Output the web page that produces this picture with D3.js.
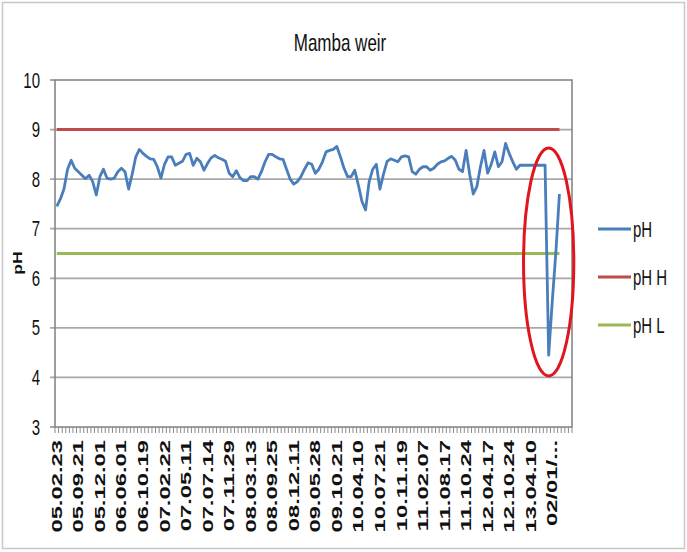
<!DOCTYPE html>
<html>
<head>
<meta charset="utf-8">
<script src="https://cdn.jsdelivr.net/npm/d3@7"></script>
<style>
  body { margin: 0; background: #fff; }
  text { font-family: "Liberation Sans", Arial, sans-serif; fill: #111; }
</style>
</head>
<body>
<svg id="chart" width="687" height="552"></svg>
<script>
// pH readings, one per category
var pH = [
  7.45, 7.6, 7.8, 8.2, 8.38, 8.22, 8.15, 8.08, 8.01, 8.08,
  7.95, 7.68, 8.05, 8.2, 8.02, 8.0, 8.02, 8.15, 8.22, 8.15,
  7.8, 8.1, 8.45, 8.6, 8.52, 8.46, 8.41, 8.4, 8.25, 8.02,
  8.3, 8.45, 8.45, 8.28, 8.32, 8.36, 8.5, 8.52, 8.28, 8.42,
  8.35, 8.18, 8.32, 8.43, 8.48, 8.43, 8.4, 8.36, 8.12, 8.05,
  8.17, 8.03, 7.97, 7.97, 8.05, 8.05, 8.0, 8.15, 8.35, 8.5,
  8.5, 8.45, 8.41, 8.4, 8.2, 8.0, 7.9, 7.95, 8.05, 8.2,
  8.33, 8.3, 8.12, 8.2, 8.35, 8.55, 8.58, 8.6, 8.66, 8.45,
  8.22, 8.05, 8.05, 8.18, 7.88, 7.55, 7.38, 7.95, 8.2, 8.3,
  7.8, 8.1, 8.36, 8.41, 8.38, 8.35, 8.45, 8.47, 8.45, 8.15,
  8.1, 8.2, 8.25, 8.25, 8.18, 8.22, 8.3, 8.35, 8.37, 8.42,
  8.46, 8.38, 8.2, 8.15, 8.58, 8.1, 7.7, 7.85, 8.25, 8.58,
  8.12, 8.3, 8.55, 8.25, 8.35, 8.72, 8.52, 8.35, 8.2, 8.28,
  8.28, 8.28, 8.28, 8.28, 8.28, 8.28, 8.28, 4.45, 5.53, 6.52,
  7.7
];
var pHH = 9;     // upper limit
var pHL = 6.5;   // lower limit
var nCategories = 144;
var labelEvery = 6;
var tickLabels = [
  "05.02.23", "05.09.21", "05.12.01", "06.06.01", "06.10.19", "07.02.22",
  "07.05.11", "07.07.14", "07.11.29", "08.03.13", "08.09.25", "08.12.11",
  "09.05.28", "09.10.21", "10.04.10", "10.07.21", "10.11.19", "11.02.07",
  "11.08.17", "11.10.24", "12.04.17", "12.10.24", "13.04.10", "02/01/..."
];
var yTicks = [3, 4, 5, 6, 7, 8, 9, 10];
var legendItems = [
  {name: "pH", color: "#4A7EBB"},
  {name: "pH H", color: "#BE4B48"},
  {name: "pH L", color: "#98B954"}
];
// red ring round the drop: centre category / value, half sizes
var ring = {cat: 137, value: 6.33, halfCats: 7, halfValue: 2.3};

var svg = d3.select("#chart");
var plotL = 55, plotR = 572, plotT = 80, plotB = 427;

var x = d3.scaleBand().domain(d3.range(nCategories)).range([plotL, plotR]);
var y = d3.scaleLinear().domain([3, 10]).range([plotB, plotT]);
var bw = x.bandwidth();
function cx(i) { return x(i) + bw / 2; }

// outer frame
svg.append("rect")
  .attr("x", 2.5).attr("y", 2.5).attr("width", 682).attr("height", 546)
  .attr("fill", "#fff").attr("stroke", "#c8c8c8").attr("stroke-width", 1.5);

// title
svg.append("text")
  .attr("transform", "translate(340,51) scale(1,1.4)")
  .attr("text-anchor", "middle")
  .style("font-size", "17px")
  .text("Mamba weir");

// gridlines + y tick marks
svg.append("g").selectAll("line")
  .data(yTicks.filter(function(d){ return d > 3 && d < 10; }))
  .enter().append("line")
  .attr("x1", plotL - 5).attr("x2", plotR)
  .attr("y1", function(d){ return y(d); }).attr("y2", function(d){ return y(d); })
  .attr("stroke", "#a8a8a8").attr("stroke-width", 1.8);

svg.append("g").selectAll("line")
  .data([3, 10])
  .enter().append("line")
  .attr("x1", plotL - 5).attr("x2", plotL)
  .attr("y1", function(d){ return y(d); }).attr("y2", function(d){ return y(d); })
  .attr("stroke", "#888").attr("stroke-width", 1.5);

// plot border
svg.append("rect")
  .attr("x", plotL).attr("y", plotT).attr("width", plotR - plotL).attr("height", plotB - plotT)
  .attr("fill", "none").attr("stroke", "#7f7f7f").attr("stroke-width", 1.5);

// y labels
svg.append("g").selectAll("text")
  .data(yTicks)
  .enter().append("text")
  .attr("transform", function(d){ return "translate(40," + (y(d) + 7.6) + ") scale(1,1.45)"; })
  .attr("text-anchor", "end")
  .style("font-size", "15px")
  .text(function(d){ return d; });

// y axis title
svg.append("text")
  .attr("transform", "translate(17,263) rotate(-90) scale(1.35,1)")
  .attr("text-anchor", "middle")
  .attr("dy", "0.35em")
  .style("font-size", "13px").style("font-weight", "bold")
  .text("pH");

// x tick marks (category boundaries)
svg.append("g").selectAll("line")
  .data(d3.range(nCategories + 1))
  .enter().append("line")
  .attr("x1", function(i){ return plotL + i * bw; })
  .attr("x2", function(i){ return plotL + i * bw; })
  .attr("y1", plotB).attr("y2", plotB + 6)
  .attr("stroke", "#8a8a8a").attr("stroke-width", 1);

// x labels
svg.append("g").selectAll("text")
  .data(tickLabels)
  .enter().append("text")
  .attr("transform", function(d, k){ return "translate(" + cx(k * labelEvery) + ",440) rotate(-90) scale(1.7,1)"; })
  .attr("text-anchor", "end")
  .attr("dy", "0.36em")
  .style("font-size", "14px").style("font-weight", "bold")
  .text(function(d){ return d; });

// limit lines
var first = 0, last = pH.length - 1;
svg.append("line")
  .attr("x1", cx(first)).attr("x2", cx(last))
  .attr("y1", y(pHH)).attr("y2", y(pHH))
  .attr("stroke", legendItems[1].color).attr("stroke-width", 3);
svg.append("line")
  .attr("x1", cx(first)).attr("x2", cx(last))
  .attr("y1", y(pHL)).attr("y2", y(pHL))
  .attr("stroke", legendItems[2].color).attr("stroke-width", 3);

// pH series
var line = d3.line()
  .x(function(d, i){ return cx(i); })
  .y(function(d){ return y(d); });
svg.append("path")
  .datum(pH)
  .attr("d", line)
  .attr("fill", "none")
  .attr("stroke", legendItems[0].color)
  .attr("stroke-width", 2.8)
  .attr("stroke-linejoin", "round");

// red ring
svg.append("ellipse")
  .attr("cx", cx(ring.cat))
  .attr("cy", y(ring.value))
  .attr("rx", ring.halfCats * bw)
  .attr("ry", y(ring.value - ring.halfValue) - y(ring.value))
  .attr("fill", "none").attr("stroke", "#E0161E").attr("stroke-width", 3);

// legend
var lg = svg.append("g").selectAll("g")
  .data(legendItems)
  .enter().append("g")
  .attr("transform", function(d, i){ return "translate(598," + (229 + i * 48) + ")"; });
lg.append("line")
  .attr("x1", 0).attr("x2", 33)
  .attr("stroke", function(d){ return d.color; }).attr("stroke-width", 3);
lg.append("text")
  .attr("transform", "translate(35,7.6) scale(1,1.45)")
  .style("font-size", "15px")
  .text(function(d){ return d.name; });
</script>
</body>
</html>
